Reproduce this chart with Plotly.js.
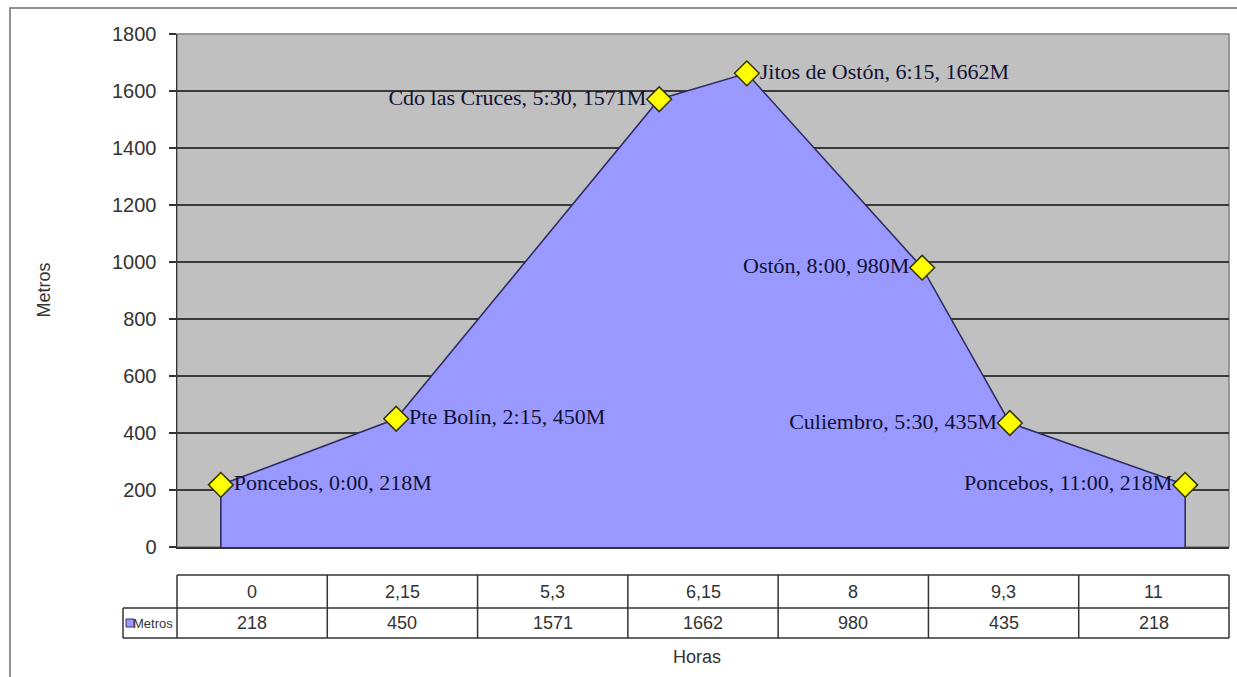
<!DOCTYPE html>
<html><head><meta charset="utf-8">
<script src="https://cdn.plot.ly/plotly-3.0.1.min.js"></script>
<style>html,body{margin:0;padding:0;background:#fff}#chart{width:1237px;height:677px}</style>
</head><body><div id="chart"></div>
<script>
// ---- data ----
const horas = [0, 2.15, 5.3, 6.15, 8, 9.3, 11];
const horasTexto = ["0", "2,15", "5,3", "6,15", "8", "9,3", "11"];
const metros = [218, 450, 1571, 1662, 980, 435, 218];
const etiquetas = [
  "Poncebos, 0:00, 218M",
  "Pte Bolín, 2:15, 450M",
  "Cdo las Cruces, 5:30, 1571M",
  "Jitos de Ostón, 6:15, 1662M",
  "Ostón, 8:00, 980M",
  "Culiembro, 5:30, 435M",
  "Poncebos, 11:00, 218M"
];
const serieNombre = "Metros";
const ejeX = "Horas";
const ejeY = "Metros";
const yTicks = [0, 200, 400, 600, 800, 1000, 1200, 1400, 1600, 1800];

// Excel date axis: values are placed on whole units
const xPos = horas.map(h => Math.floor(h));
const n = xPos.length;

const area = {
  type: 'scatter', mode: 'lines',
  x: [xPos[0]].concat(xPos, [xPos[n - 1]]),
  y: [0].concat(metros, [0]),
  fill: 'toself', fillcolor: '#9999FF',
  line: {color: '#2e2e66', width: 1.6},
  hoverinfo: 'skip', showlegend: false
};
const puntos = {
  type: 'scatter', mode: 'markers+text',
  x: xPos, y: metros, text: etiquetas,
  textposition: ['middle right', 'middle right', 'middle left', 'middle right', 'middle left', 'middle left', 'middle left'],
  textfont: {family: 'Liberation Serif, Times New Roman, serif', size: 22, color: '#111133'},
  marker: {symbol: 'diamond', size: 19, color: '#FFFF00', line: {color: '#333300', width: 1.5}},
  cliponaxis: false, showlegend: false
};

// ---- table below plot ----
const L = 177, R = 1229, T = 34, B = 547;
const px = p => (p - L) / (R - L);
const py = p => (B - p) / (B - T);
const r0 = py(575), r1 = py(608), r2 = py(638);
const legL = px(123);
const shapes = [];
const annotations = [];
const lineSty = {color: '#333', width: 1.5};
shapes.push({type: 'line', xref: 'paper', yref: 'paper', x0: 0, x1: 1, y0: r0, y1: r0, line: lineSty});
shapes.push({type: 'line', xref: 'paper', yref: 'paper', x0: legL, x1: 1, y0: r1, y1: r1, line: lineSty});
shapes.push({type: 'line', xref: 'paper', yref: 'paper', x0: legL, x1: 1, y0: r2, y1: r2, line: lineSty});
shapes.push({type: 'line', xref: 'paper', yref: 'paper', x0: legL, x1: legL, y0: r1, y1: r2, line: lineSty});
const nc = horasTexto.length;
for (let i = 0; i <= nc; i++) {
  shapes.push({type: 'line', xref: 'paper', yref: 'paper', x0: i / nc, x1: i / nc, y0: r0, y1: r2, line: lineSty});
}
const tFont = {family: 'Liberation Sans, Arial, sans-serif', size: 18, color: '#333'};
horasTexto.forEach((t, i) => {
  annotations.push({xref: 'paper', yref: 'paper', x: (i + 0.5) / nc, y: (r0 + r1) / 2, text: t, showarrow: false, font: tFont, xanchor: 'center', yanchor: 'middle'});
});
metros.forEach((v, i) => {
  annotations.push({xref: 'paper', yref: 'paper', x: (i + 0.5) / nc, y: (r1 + r2) / 2, text: String(v), showarrow: false, font: tFont, xanchor: 'center', yanchor: 'middle'});
});
// legend key
shapes.push({type: 'rect', xref: 'paper', yref: 'paper', x0: px(126), x1: px(134), y0: py(619), y1: py(627), fillcolor: '#9999FF', line: {color: '#333366', width: 1}});
annotations.push({xref: 'paper', yref: 'paper', x: px(175), y: (r1 + r2) / 2, text: serieNombre, showarrow: false, font: {family: 'Liberation Sans, Arial, sans-serif', size: 13, color: '#333'}, xanchor: 'right', yanchor: 'middle'});
// axis titles
annotations.push({xref: 'paper', yref: 'paper', x: px(697), y: py(657), text: ejeX, showarrow: false, font: {family: 'Liberation Sans, Arial, sans-serif', size: 18, color: '#333'}, xanchor: 'center', yanchor: 'middle'});
annotations.push({xref: 'paper', yref: 'paper', x: px(43), y: 0.5, text: ejeY, textangle: -90, showarrow: false, font: {family: 'Liberation Sans, Arial, sans-serif', size: 18, color: '#333'}, xanchor: 'center', yanchor: 'middle'});
// plot-area border (top/right) and outer chart border
shapes.push({type: 'rect', xref: 'paper', yref: 'paper', x0: 0, x1: 1, y0: 0, y1: 1, line: {color: '#808080', width: 1.5}, layer: 'below'});
shapes.push({type: 'rect', xref: 'paper', yref: 'paper', x0: px(10), x1: px(1245), y0: py(8), y1: py(690), line: {color: '#909090', width: 2}});

const layout = {
  width: 1237, height: 677,
  margin: {l: L, r: 1237 - R, t: T, b: 677 - B},
  paper_bgcolor: '#ffffff', plot_bgcolor: '#C0C0C0',
  showlegend: false,
  xaxis: {range: [-0.5, 11.5], showticklabels: false, showgrid: false, zeroline: false,
          showline: true, linecolor: '#333', linewidth: 1.5, ticks: '', fixedrange: true},
  yaxis: {range: [0, 1800], tickmode: 'array', tickvals: yTicks, ticktext: yTicks.map(String),
          ticks: 'outside', ticklen: 7, tickwidth: 1.5, tickcolor: '#333', ticklabelstandoff: 8,
          showgrid: true, gridcolor: '#3a3a3a', gridwidth: 1.6, zeroline: false,
          showline: true, linecolor: '#333', linewidth: 1.5,
          tickfont: {family: 'Liberation Sans, Arial, sans-serif', size: 20, color: '#333'}, fixedrange: true},
  shapes: shapes, annotations: annotations
};
Plotly.newPlot('chart', [area, puntos], layout, {displayModeBar: false, staticPlot: true});
</script>
</body></html>
